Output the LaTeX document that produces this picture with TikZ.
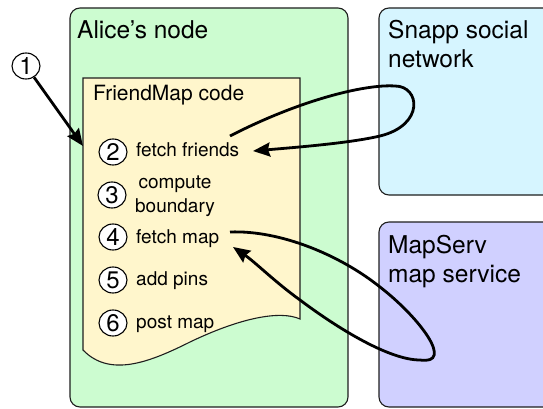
\documentclass[tikz,border=0pt]{standalone}
\usepackage{fontspec}
\setmainfont{TeX Gyre Heros}
\usetikzlibrary{arrows.meta,shapes.geometric}
\definecolor{nodegreen}{RGB}{204,252,208}
\definecolor{codeyellow}{RGB}{255,246,204}
\definecolor{snappblue}{RGB}{214,245,255}
\definecolor{mappurple}{RGB}{208,208,255}
\definecolor{edgegray}{RGB}{30,30,30}
\tikzset{
  region/.style={draw=edgegray, line width=1.1pt, rounded corners=10pt},
  bigtitle/.style={anchor=base west, inner sep=0pt, font=\fontsize{24.5}{29}\selectfont, align=left},
  codetitle/.style={anchor=base west, inner sep=0pt, font=\fontsize{21}{25}\selectfont},
  steptext/.style={anchor=base west, inner sep=0pt, font=\fontsize{19}{24}\selectfont},
  stepnum/.style={ellipse, draw=black, line width=1.1pt, fill=white, minimum width=28pt, minimum height=26pt, inner sep=0pt, font=\fontsize{24}{24}\selectfont},
  flow/.style={line width=2.8pt, -{Stealth[length=17pt,width=14pt,inset=2pt]}},
}
\begin{document}
\begin{tikzpicture}[x=1pt,y=-1pt]
\useasboundingbox (0,0) rectangle (543,409);
\clip (0,0) rectangle (543,409);
% regions
\draw[region, fill=nodegreen] (70,8) rectangle (348,407);
\draw[region, fill=snappblue] (379,8) rectangle (570,195);
\draw[region, fill=mappurple] (379,222) rectangle (570,407);
% document shape
\draw[draw=edgegray, line width=1.1pt, fill=codeyellow]
  (83,78) -- (300,78) -- (300,319)
  .. controls (280,310) and (240,318) .. (190,342)
  .. controls (150,362) and (110,378) .. (83,350) -- cycle;
% titles
\node[bigtitle] (alice) at (77,39) {Alice’s node};
\node[bigtitle] (snapp) at (388,68) {Snapp social\\network};
\node[bigtitle] (mapserv) at (388,282) {MapServ\\map service};
\node[codetitle] (code) at (93,101) {FriendMap code};
% steps
\node[stepnum] (n1) at (26,66) {1};
\node[stepnum] (n2) at (113,152) {2};
\node[stepnum] (n3) at (112,195) {3};
\node[stepnum] (n4) at (113,237) {4};
\node[stepnum] (n5) at (113,280) {5};
\node[stepnum] (n6) at (113,323) {6};
\node[steptext] (t2) at (136,157) {fetch friends};
\node[anchor=base, inner sep=0pt, font=\fontsize{19}{24}\selectfont, align=center] (t3) at (175,212) {compute\\boundary};
\node[steptext] (t4) at (136,243) {fetch map};
\node[steptext] (t5) at (136,285) {add pins};
\node[steptext] (t6) at (136,328) {post map};
% connectors
\coordinate (docedge) at (83,146);
\draw[flow] (n1) -- (docedge);
\coordinate (ffout) at (230,136);
\coordinate (ffin) at (253,151);
\draw[flow] (ffout) .. controls (300,100) and (365,84) .. (395,86)
  .. controls (420,86) and (425,125) .. (380,136)
  .. controls (350,143) and (300,147) .. (ffin);
\coordinate (fmout) at (230,232);
\coordinate (fmin) at (233,247);
\draw[flow] (fmout) .. controls (280,230) and (340,255) .. (380,287)
  .. controls (420,318) and (455,365) .. (420,360)
  .. controls (390,360) and (340,330) .. (300,300)
  .. controls (275,282) and (255,262) .. (fmin);
\end{tikzpicture}
\end{document}
